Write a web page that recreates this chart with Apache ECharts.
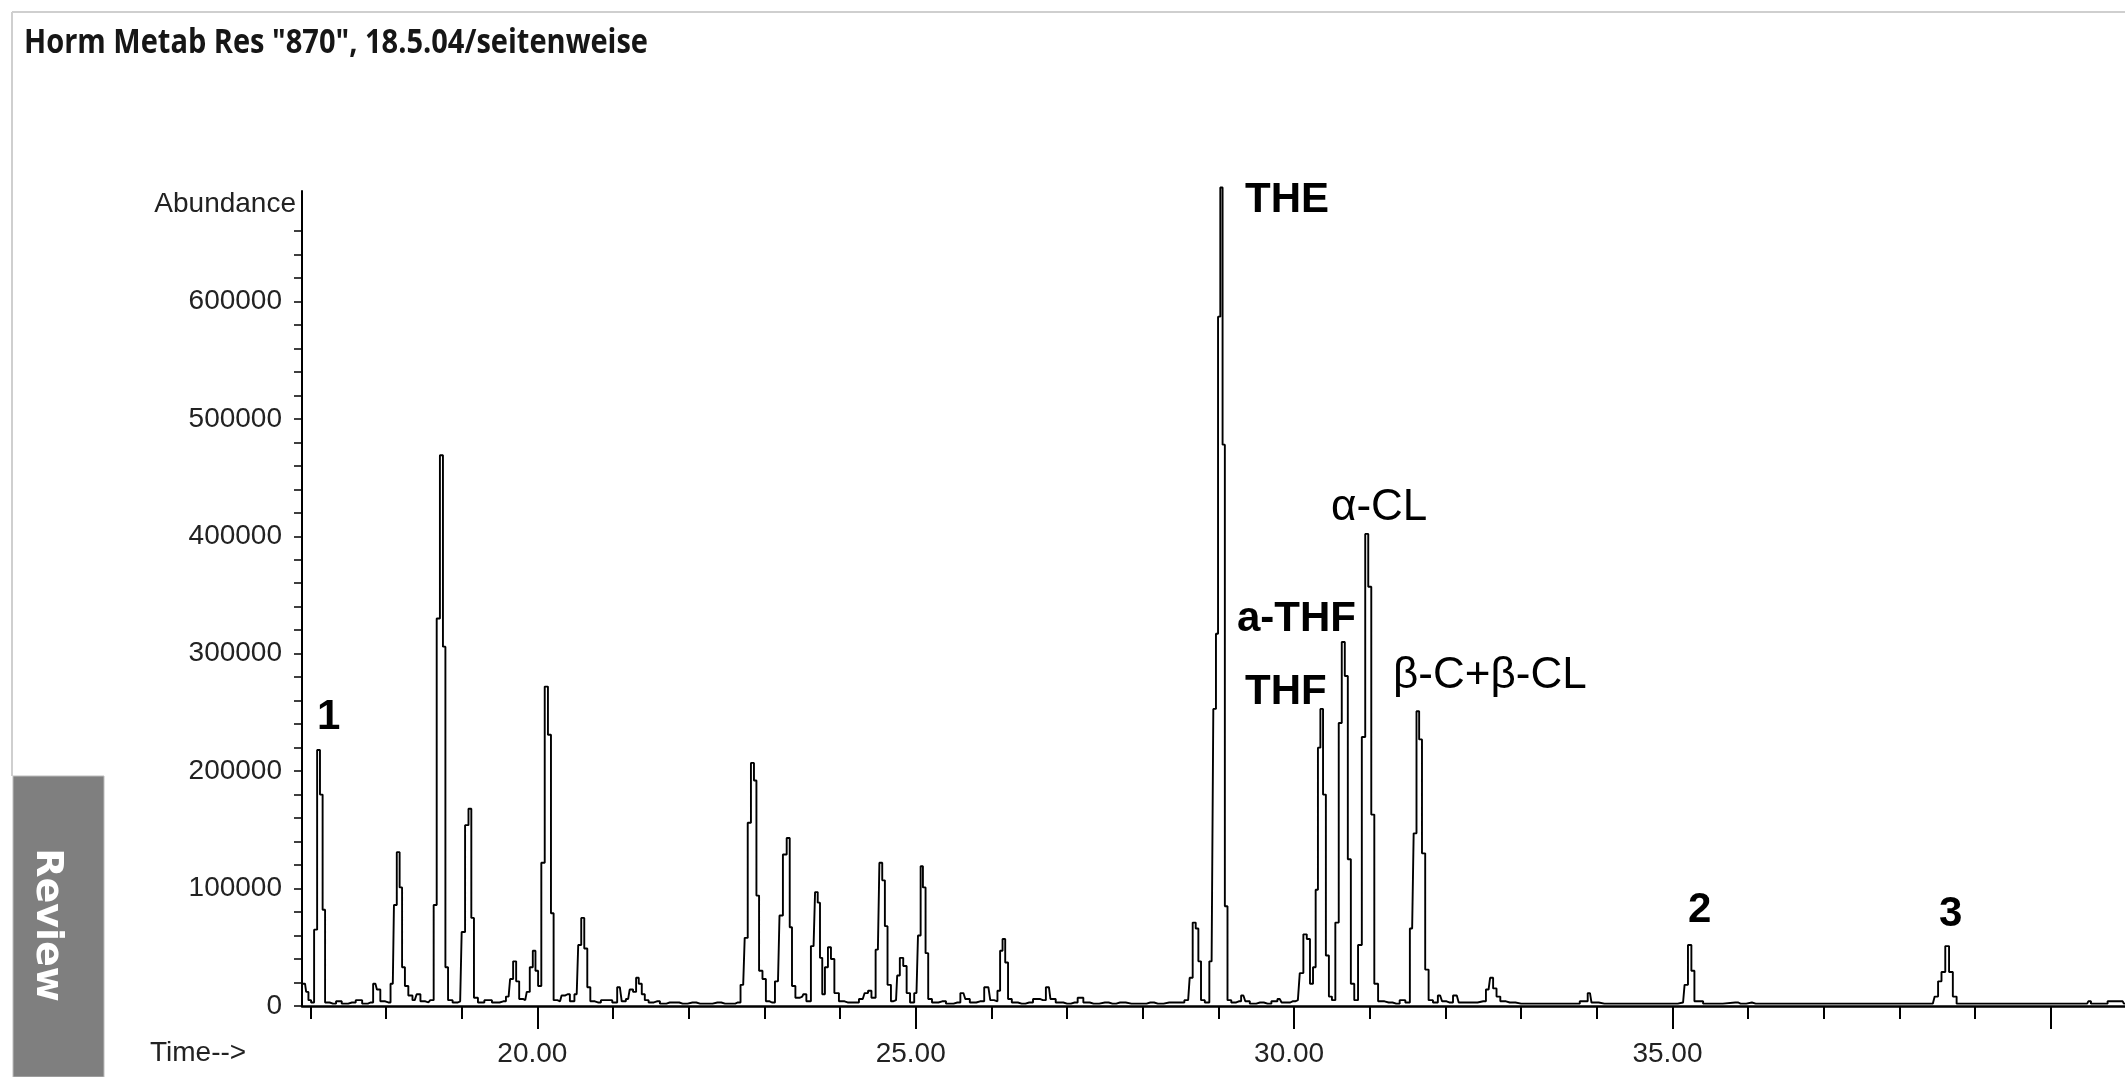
<!DOCTYPE html>
<html><head><meta charset="utf-8">
<script src="https://cdn.jsdelivr.net/npm/echarts@6/dist/echarts.min.js"></script>
<style>html,body{margin:0;padding:0;background:#fff}#c{width:2125px;height:1077px}</style>
</head><body><div id="c"></div>
<script>
// Retention time (min) and abundance
const retentionTime = [
16.90,16.93,16.96,16.99,17.03,17.07,17.11,17.145,17.18,17.21,17.30,17.38,17.45,17.55,17.65,17.72,17.80,17.86,17.90,17.95,
18.03,18.09,18.12,18.165,18.195,18.23,18.27,18.32,18.38,18.43,18.48,18.56,18.61,18.65,18.69,18.735,18.77,18.80,18.84,18.92,
18.98,19.02,19.07,19.11,19.145,19.18,19.25,19.35,19.45,19.55,19.62,19.66,19.70,19.74,19.78,19.84,19.88,19.92,19.96,19.99,
20.03,20.075,20.12,20.16,20.20,20.23,20.30,20.34,20.40,20.46,20.52,20.56,20.60,20.64,20.68,20.72,20.80,20.88,20.96,21.02,
21.09,21.14,21.20,21.24,21.29,21.32,21.36,21.40,21.44,21.50,21.58,21.66,21.75,21.83,21.92,22.05,22.15,22.25,22.38,22.48,
22.58,22.65,22.72,22.76,22.80,22.845,22.88,22.91,22.95,23.00,23.04,23.10,23.18,23.22,23.27,23.32,23.35,23.38,23.44,23.50,
23.53,23.58,23.65,23.69,23.72,23.75,23.78,23.82,23.86,23.90,23.95,24.02,24.10,24.20,24.30,24.35,24.39,24.44,24.50,24.54,
24.575,24.61,24.645,24.70,24.74,24.77,24.81,24.86,24.90,24.95,25.01,25.05,25.08,25.11,25.15,25.18,25.25,25.35,25.45,25.55,
25.63,25.68,25.75,25.85,25.96,26.01,26.06,26.10,26.13,26.165,26.20,26.24,26.30,26.40,26.50,26.60,26.68,26.76,26.80,26.90,
27.00,27.10,27.18,27.25,27.35,27.50,27.60,27.70,27.85,28.00,28.10,28.20,28.35,28.50,28.60,28.64,28.68,28.72,28.75,28.79,
28.85,28.91,28.955,28.98,29.01,29.04,29.07,29.10,29.14,29.20,29.27,29.33,29.38,29.45,29.55,29.65,29.75,29.81,29.86,29.92,
29.98,30.05,30.10,30.145,30.19,30.23,30.27,30.30,30.33,30.365,30.40,30.44,30.48,30.52,30.57,30.61,30.65,30.69,30.73,30.77,
30.82,30.87,30.92,30.96,31.00,31.04,31.08,31.14,31.25,31.35,31.44,31.50,31.56,31.60,31.635,31.67,31.71,31.755,31.80,31.87,
31.93,31.98,32.05,32.15,32.20,32.35,32.50,32.57,32.61,32.65,32.70,32.75,32.85,33.00,33.15,33.30,33.50,33.70,33.85,33.91,
33.95,34.10,34.40,34.70,35.00,35.14,35.18,35.23,35.27,35.31,35.50,35.83,35.90,36.05,36.10,36.50,37.00,37.50,38.00,38.44,
38.49,38.53,38.58,38.63,38.68,38.73,38.78,39.20,39.60,40.00,40.48,40.51,40.55,40.95,40.98
];
const abundance = [
19000,19000,12000,5000,3000,65000,218000,180000,82000,3000,2000,4000,2000,3000,5000,2000,3000,19000,14000,4000,
3000,19000,86000,131000,101000,33000,17000,9000,5000,10000,4000,3000,5000,86000,330000,469000,306000,33000,5000,3000,
4000,63000,154000,168000,75000,7000,3000,5000,3000,4000,8000,23000,38000,21000,6000,5000,12000,33000,47000,30000,
17000,122000,272000,231000,79000,5000,4000,9000,10000,4000,10000,52000,75000,49000,16000,4000,3000,5000,5000,3000,
16000,4000,6000,14000,12000,24000,19000,10000,5000,3000,4000,2000,3000,3000,2000,3000,2000,2000,3000,2000,
2000,3000,18000,58000,156000,207000,192000,94000,30000,23000,4000,3000,21000,77000,129000,143000,67000,17000,7000,8000,
10000,4000,51000,97000,88000,41000,10000,33000,50000,40000,11000,4000,3000,3000,6000,11000,13000,7000,48000,122000,
107000,68000,18000,4000,5000,26000,41000,34000,11000,3000,11000,60000,119000,101000,45000,6000,3000,4000,2000,3000,
11000,6000,3000,4000,16000,5000,4000,13000,47000,57000,37000,6000,3000,2000,3000,6000,5000,16000,6000,3000,
2000,3000,7000,3000,2000,3000,2000,3000,2000,2000,3000,2000,3000,3000,5000,24000,71000,66000,38000,5000,
3000,38000,253000,317000,587000,697000,478000,85000,5000,3000,4000,9000,4000,2000,3000,2000,4000,6000,3000,3000,
4000,5000,28000,61000,57000,19000,33000,99000,220000,253000,180000,43000,8000,5000,71000,241000,310000,281000,125000,19000,
5000,52000,229000,402000,357000,163000,19000,4000,3000,2000,5000,3000,66000,147000,251000,227000,130000,31000,5000,3000,
9000,4000,3000,9000,3000,3000,4000,14000,24000,15000,8000,4000,3000,2000,2000,2000,2000,2000,4000,11000,
3000,2000,2000,2000,2000,3000,18000,52000,30000,4000,2000,3000,2000,3000,2000,2000,2000,2000,2000,2000,
8000,21000,29000,51000,29000,8000,2000,2000,2000,2000,2000,4000,2000,4000,2000
];
const xMinorTicks = [17,18,19,20,21,22,23,24,25,26,27,28,29,30,31,32,33,34,35,36,37,38,39,40];
const xMajorTicks = [20,25,30,35,40];
const xTickLabels = [20,25,30,35];
const yTicks = [0,20000,40000,60000,80000,100000,120000,140000,160000,180000,200000,220000,240000,260000,280000,300000,
  320000,340000,360000,380000,400000,420000,440000,460000,480000,500000,520000,540000,560000,580000,600000,620000,640000,660000];
const yTickLabels = [0,100000,200000,300000,400000,500000,600000];
const peakLabels = ['THE','α-CL','a-THF','THF','β-C+β-CL','1','2','3'];
const titleText = 'Horm Metab Res "870", 18.5.04/seitenweise';

const seriesData = retentionTime.map((t, i) => [t, abundance[i]]);
const X_MIN = 16.89, X_MAX = 40.98;
const FONT = '"Liberation Sans", Arial, sans-serif';

// condensed look for the title: fit the measured text into the reference width
const TITLE_FONT = 'bold 34px "Open Sans"';
const mctx = document.createElement('canvas').getContext('2d');
mctx.font = TITLE_FONT;
const titleScale = 624 / mctx.measureText(titleText).width;

const chart = echarts.init(document.getElementById('c'), null, {renderer: 'canvas'});

const bold = {fontFamily: FONT, fontWeight: 'bold', fontSize: 42, fill: '#000', verticalAlign: 'middle'};
const reg = {fontFamily: FONT, fontWeight: 'normal', fontSize: 44, fill: '#000', verticalAlign: 'middle'};
const labelPos = [
  [1245, 200, bold], [1331, 508, reg], [1237, 619, bold], [1245, 692, bold],
  [1393, 676, reg], [317, 717, bold], [1688, 910, bold], [1939, 914, bold]
];

chart.setOption({
  animation: false,
  backgroundColor: '#fff',
  grid: {left: 302, right: 0, top: 191, bottom: 71, containLabel: false},
  xAxis: [{
    type: 'value', min: X_MIN, max: X_MAX, position: 'bottom',
    axisLine: {show: true, onZero: false, lineStyle: {color: '#000', width: 2.5}},
    axisTick: {show: true, customValues: xMinorTicks, length: 13, lineStyle: {color: '#000', width: 2}},
    axisLabel: {show: false},
    splitLine: {show: false}
  }, {
    type: 'value', min: X_MIN, max: X_MAX, position: 'bottom',
    axisLine: {show: false},
    axisTick: {show: true, customValues: xMajorTicks, length: 23, lineStyle: {color: '#000', width: 2}},
    axisLabel: {show: true, customValues: xTickLabels, margin: 34, color: '#222', fontSize: 28,
      fontFamily: FONT, padding: [0, 10, 0, 0], formatter: v => v.toFixed(2)},
    splitLine: {show: false}
  }],
  yAxis: {
    type: 'value', min: 0, max: 694000,
    axisLine: {show: true, lineStyle: {color: '#000', width: 2}},
    axisTick: {show: true, customValues: yTicks, length: 8, lineStyle: {color: '#000', width: 1.5}},
    axisLabel: {show: true, customValues: yTickLabels, margin: 20, color: '#222', fontSize: 28,
      fontFamily: FONT, formatter: v => String(v)},
    splitLine: {show: false}
  },
  series: [{
    type: 'line', xAxisIndex: 0, data: seriesData, step: 'middle',
    showSymbol: false, clip: false,
    lineStyle: {color: '#000', width: 1.9}
  }],
  graphic: [
    {type: 'line', shape: {x1: 12, y1: 12, x2: 2125, y2: 12}, style: {stroke: '#cfcfcf', lineWidth: 2}},
    {type: 'line', shape: {x1: 12, y1: 12, x2: 12, y2: 776}, style: {stroke: '#cfcfcf', lineWidth: 2}},
    {type: 'rect', shape: {x: 13, y: 776, width: 91, height: 301}, style: {fill: '#7f7f7f', stroke: '#bdbdbd', lineWidth: 1}},
    {type: 'text', x: 47, y: 925, rotation: -Math.PI / 2,
      style: {text: 'Review', fill: '#fff', fontFamily: '"DejaVu Sans", sans-serif', fontWeight: 'bold', fontSize: 38,
        align: 'center', verticalAlign: 'middle'}},
    {type: 'text', x: 24, y: 43, scaleX: titleScale,
      style: {text: titleText, fill: '#161616', font: TITLE_FONT, align: 'left', verticalAlign: 'middle'}},
    {type: 'text', x: 296, y: 204,
      style: {text: 'Abundance', fill: '#222', fontFamily: FONT, fontSize: 28, align: 'right', verticalAlign: 'middle'}},
    {type: 'text', x: 150, y: 1053,
      style: {text: 'Time-->', fill: '#222', fontFamily: FONT, fontSize: 28, align: 'left', verticalAlign: 'middle'}}
  ].concat(peakLabels.map((txt, i) => ({
    type: 'text', x: labelPos[i][0], y: labelPos[i][1],
    style: Object.assign({text: txt, align: 'left'}, labelPos[i][2])
  })))
});
</script>
</body></html>
